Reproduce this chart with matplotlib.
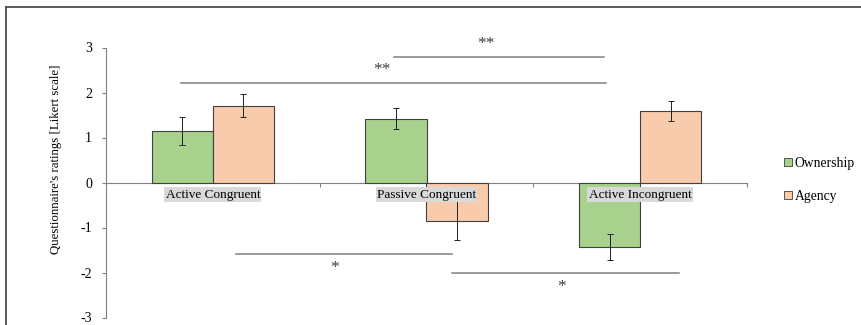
import numpy as np
import matplotlib
matplotlib.use("Agg")
import matplotlib.pyplot as plt
from matplotlib.patches import Patch
from matplotlib.lines import Line2D

plt.rcParams["font.family"] = ["Liberation Serif", "DejaVu Serif"]

conditions = ["Active Congruent", "Passive Congruent", "Active Incongruent"]
ownership = [1.14, 1.42, -1.44]
ownership_err = [0.31, 0.24, 0.29]
agency = [1.71, -0.85, 1.59]
agency_err = [0.26, 0.43, 0.23]

# significance lines: x start, x end, y, star label and its position
sig_x0 = [0.85, -0.15, 0.11, 1.12]
sig_x1 = [1.83, 1.84, 1.12, 2.18]
sig_y = [2.78, 2.22, -1.59, -2.0]
sig_lab = ["**", "**", "*", "*"]
sig_tx = [1.28, 0.79, 0.57, 1.63]
sig_ty = [3.08, 2.50, -1.91, -2.32]

GREEN = "#a9d18e"
ORANGE = "#f8cbad"
GRAY = "#808080"

W, H = 862, 325
fig = plt.figure(figsize=(W / 100, H / 100), dpi=100)
ax = fig.add_axes([106 / W, (H - 317.5) / H, 641 / W, 270 / H])

x = np.arange(len(conditions))
bw = 1 / 3.5
err_kw = dict(ecolor="#202020", elinewidth=0.7, capsize=2.0, capthick=0.7)
ax.bar(x - bw / 2, ownership, bw, yerr=ownership_err, color=GREEN,
       edgecolor="#404040", linewidth=0.8, error_kw=err_kw, zorder=2)
ax.bar(x + bw / 2, agency, bw, yerr=agency_err, color=ORANGE,
       edgecolor="#404040", linewidth=0.8, error_kw=err_kw, zorder=2)

ax.set_xlim(-0.5, 2.5)
ax.set_ylim(-3, 3)
ax.set_yticks([-3, -2, -1, 0, 1, 2, 3])
ax.set_yticklabels(["-3", "-2", "-1", "0", "1", "2", "3"])
ax.tick_params(axis="y", length=3, width=0.8, color=GRAY, labelsize=10, pad=7)

ax.spines["top"].set_visible(False)
ax.spines["right"].set_visible(False)
ax.spines["left"].set_color(GRAY)
ax.spines["bottom"].set_color(GRAY)
ax.spines["bottom"].set_position(("data", 0))
ax.spines["bottom"].set_zorder(1)
ax.set_xticks([0.5, 1.5, 2.5])
ax.set_xticklabels([])
ax.tick_params(axis="x", length=3, width=0.8, color=GRAY)

for xi, name in zip(x, conditions):
    ax.text(xi, -0.27, name, ha="center", va="center", fontsize=9.5, zorder=4,
            bbox=dict(boxstyle="square,pad=0.1", fc="#d9d9d9", ec="none"))

for x0, x1, y, lab, tx, ty in zip(sig_x0, sig_x1, sig_y, sig_lab, sig_tx, sig_ty):
    ax.plot([x0, x1], [y, y], color=GRAY, lw=1.1, clip_on=False, zorder=3)
    ax.text(tx, ty, lab, ha="center", va="center", fontsize=12.5, color="#404040")

ax.set_ylabel("Questionnaire's ratings [Likert scale]", fontsize=9.3)
ax.yaxis.set_label_coords(-0.068, 0.587)

handles = [Patch(facecolor=GREEN, edgecolor="#404040", linewidth=0.6),
           Patch(facecolor=ORANGE, edgecolor="#404040", linewidth=0.6)]
fig.legend(handles, ["Ownership", "Agency"], loc="center left",
           bbox_to_anchor=(772 / W, 1 - 180 / H), frameon=False, fontsize=9.8,
           handlelength=0.55, handleheight=0.55, handletextpad=0.2,
           labelspacing=1.5)

# outer frame
fig.add_artist(Line2D([6 / W, 1], [1 - 7 / H, 1 - 7 / H], color="#404040", lw=1.2))
fig.add_artist(Line2D([6 / W, 6 / W], [0, 1 - 7 / H], color="#404040", lw=1.2))

fig.savefig("out.png", dpi=100)
